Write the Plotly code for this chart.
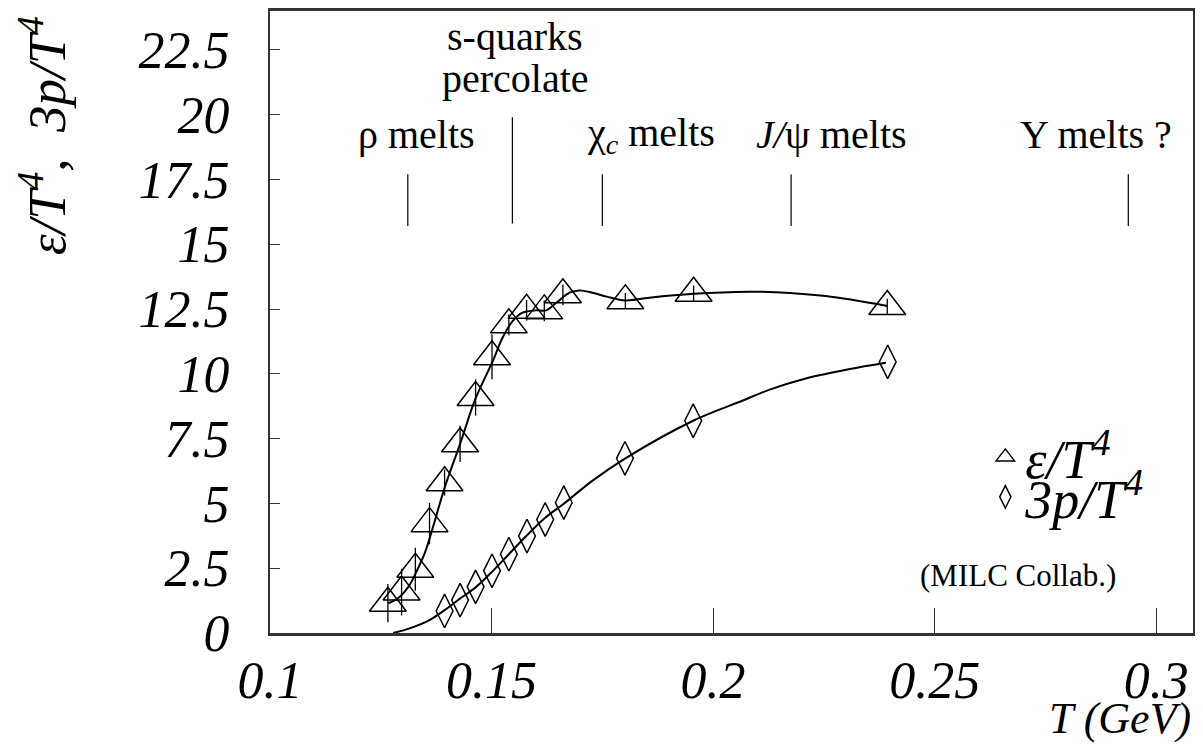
import plotly.graph_objects as go

# Lattice QCD (MILC) energy density and pressure, normalised to T^4
T_eps = [0.1266, 0.1297, 0.1328, 0.1360, 0.1394, 0.1429, 0.1464, 0.1501,
         0.1539, 0.1579, 0.1619, 0.1661, 0.1802, 0.1956, 0.2393]
eps = [1.15, 1.58, 2.46, 4.22, 5.80, 7.30, 9.09, 10.66,
       11.89, 12.45, 12.43, 13.05, 12.82, 13.11, 12.60]
eps_err = [0.74, 0.90, 0.83, 0.80, 0.50, 0.70, 0.70, 0.87,
           0.40, 0.40, 0.40, 0.40, 0.30, 0.30, 0.30]

T_p = [0.1394, 0.1429, 0.1464, 0.1501, 0.1539, 0.1580, 0.1621, 0.1663,
       0.1801, 0.1955, 0.2394]
p3 = [0.85, 1.27, 1.78, 2.40, 3.04, 3.74, 4.38, 5.03, 6.74, 8.19, 10.46]

# Smooth interpolating curves through the lattice points
T_eps_fit = [0.1267, 0.1293, 0.1315, 0.1334, 0.1349, 0.1362, 0.1394, 0.1429,
             0.1464, 0.1503, 0.1525, 0.1548, 0.1570, 0.1601, 0.1623, 0.1646,
             0.1676, 0.1698, 0.1728, 0.1760, 0.1802, 0.1856, 0.1956, 0.2081,
             0.2141, 0.2254, 0.2393]
eps_fit = [1.14, 1.40, 1.85, 2.49, 3.07, 3.75, 5.60, 7.30,
           9.05, 10.50, 11.40, 12.04, 12.36, 12.45, 12.45, 12.74,
           13.13, 13.22, 13.13, 12.98, 12.83, 12.94, 13.09, 13.17,
           13.15, 13.00, 12.62]

T_p_fit = [0.1278, 0.1315, 0.1360, 0.1394, 0.1429, 0.1464, 0.1501, 0.1539,
           0.1580, 0.1621, 0.1663, 0.1728, 0.1802, 0.1955, 0.2066, 0.2126,
           0.2209, 0.2306, 0.2390]
p3_fit = [0.00, 0.18, 0.50, 0.88, 1.33, 1.76, 2.36, 3.04,
          3.77, 4.45, 4.99, 5.88, 6.74, 8.19, 8.96, 9.38,
          9.82, 10.18, 10.43]

# Melting / percolation temperatures marked above the data
T_marks = [0.1311, 0.1547, 0.1750, 0.2176, 0.2937]
mark_lo = [15.70, 15.80, 15.70, 15.70, 15.70]
mark_hi = [17.70, 19.90, 17.70, 17.70, 17.70]

x_ticks = [0.1, 0.15, 0.2, 0.25, 0.3]
x_tick_labels = ["0.1", "0.15", "0.2", "0.25", "0.3"]
y_ticks = [0, 2.5, 5, 7.5, 10, 12.5, 15, 17.5, 20, 22.5]
y_tick_labels = ["0", "2.5", "5", "7.5", "10", "12.5", "15", "17.5", "20", "22.5"]

SERIF = "Liberation Serif, Times New Roman, serif"

fig = go.Figure()

fig.add_trace(go.Scatter(
    x=T_eps_fit, y=eps_fit, mode="lines", line=dict(color="black", width=2, shape="spline"),
    showlegend=False, hoverinfo="skip"))
fig.add_trace(go.Scatter(
    x=T_p_fit, y=p3_fit, mode="lines", line=dict(color="black", width=2, shape="spline"),
    showlegend=False, hoverinfo="skip"))

fig.add_trace(go.Scatter(
    x=T_eps, y=eps, mode="markers", name="ε/T<sup>4</sup>",
    marker=dict(symbol="triangle-up-open", size=32, color="black", line=dict(width=1.5)),
    error_y=dict(type="data", array=eps_err, visible=True, width=0, thickness=1.3, color="black"),
    legend="legend"))
fig.add_trace(go.Scatter(
    x=T_p, y=p3, mode="markers", name="3p/T<sup>4</sup>",
    marker=dict(symbol="diamond-tall-open", size=24, color="black", line=dict(width=1.5)),
    legend="legend2"))

# vertical marker lines
mx, my = [], []
for t, lo, hi in zip(T_marks, mark_lo, mark_hi):
    mx += [t, t, None]
    my += [lo, hi, None]
fig.add_trace(go.Scatter(x=mx, y=my, mode="lines", line=dict(color="black", width=1.2),
                         showlegend=False, hoverinfo="skip"))

lab_font = dict(family=SERIF, size=40, color="black")
labels = [
    (0.1331, 19.23, "ρ melts"),
    (0.1554, 23.00, "s-quarks"),
    (0.1554, 21.40, "percolate"),
    (0.1860, 19.23, "χ<sub><i>c</i></sub> melts"),
    (0.2268, 19.23, "<i>J/</i>ψ melts"),
    (0.2863, 19.23, "Υ melts ?"),
]
for x, y, t in labels:
    fig.add_annotation(x=x, y=y, xref="x", yref="y", text=t, showarrow=False,
                       font=lab_font, xanchor="center", yanchor="middle")

fig.add_annotation(x=0.81, y=0.093, xref="paper", yref="paper", text="(MILC Collab.)",
                   showarrow=False, font=dict(family=SERIF, size=31, color="black"),
                   xanchor="center", yanchor="middle")

fig.add_annotation(x=-0.246, y=0.80, xref="paper", yref="paper",
                   text="<i>ε/T<sup>4</sup>,  3p/T<sup>4</sup></i>", textangle=-90,
                   showarrow=False, font=dict(family=SERIF, size=53, color="black"),
                   xanchor="center", yanchor="middle")
fig.add_annotation(x=1.0, y=-0.138, xref="paper", yref="paper",
                   text="<i>T (GeV)</i>", showarrow=False,
                   font=dict(family=SERIF, size=44, color="black"),
                   xanchor="right", yanchor="middle")

tick_font = dict(family=SERIF, size=52, color="black", style="italic")
leg_font = dict(family=SERIF, size=54, color="black", style="italic")

fig.update_layout(
    width=1203, height=747,
    margin=dict(l=270, r=8, t=10, b=114),
    paper_bgcolor="white", plot_bgcolor="white",
    xaxis=dict(range=[0.1, 0.3083], tickvals=x_ticks, ticktext=x_tick_labels,
               ticks="inside", ticklen=25, tickwidth=1.2, tickcolor="#333",
               showline=True, linecolor="#333", linewidth=2.5, mirror=True,
               showgrid=False, zeroline=False, tickfont=tick_font),
    yaxis=dict(range=[0, 24], tickvals=y_ticks, ticktext=y_tick_labels,
               ticks="inside", ticklen=10, tickwidth=1.2, tickcolor="#333",
               showline=True, linecolor="#333", linewidth=2, mirror=True,
               showgrid=False, zeroline=False, tickfont=tick_font,
               ticklabelstandoff=28),
    legend=dict(x=0.775, y=0.2825, xanchor="left", yanchor="middle",
                font=leg_font, bgcolor="rgba(0,0,0,0)", itemsizing="trace"),
    legend2=dict(x=0.775, y=0.2183, xanchor="left", yanchor="middle",
                 font=leg_font, bgcolor="rgba(0,0,0,0)", itemsizing="trace"),
)

fig.write_html("out.html")
